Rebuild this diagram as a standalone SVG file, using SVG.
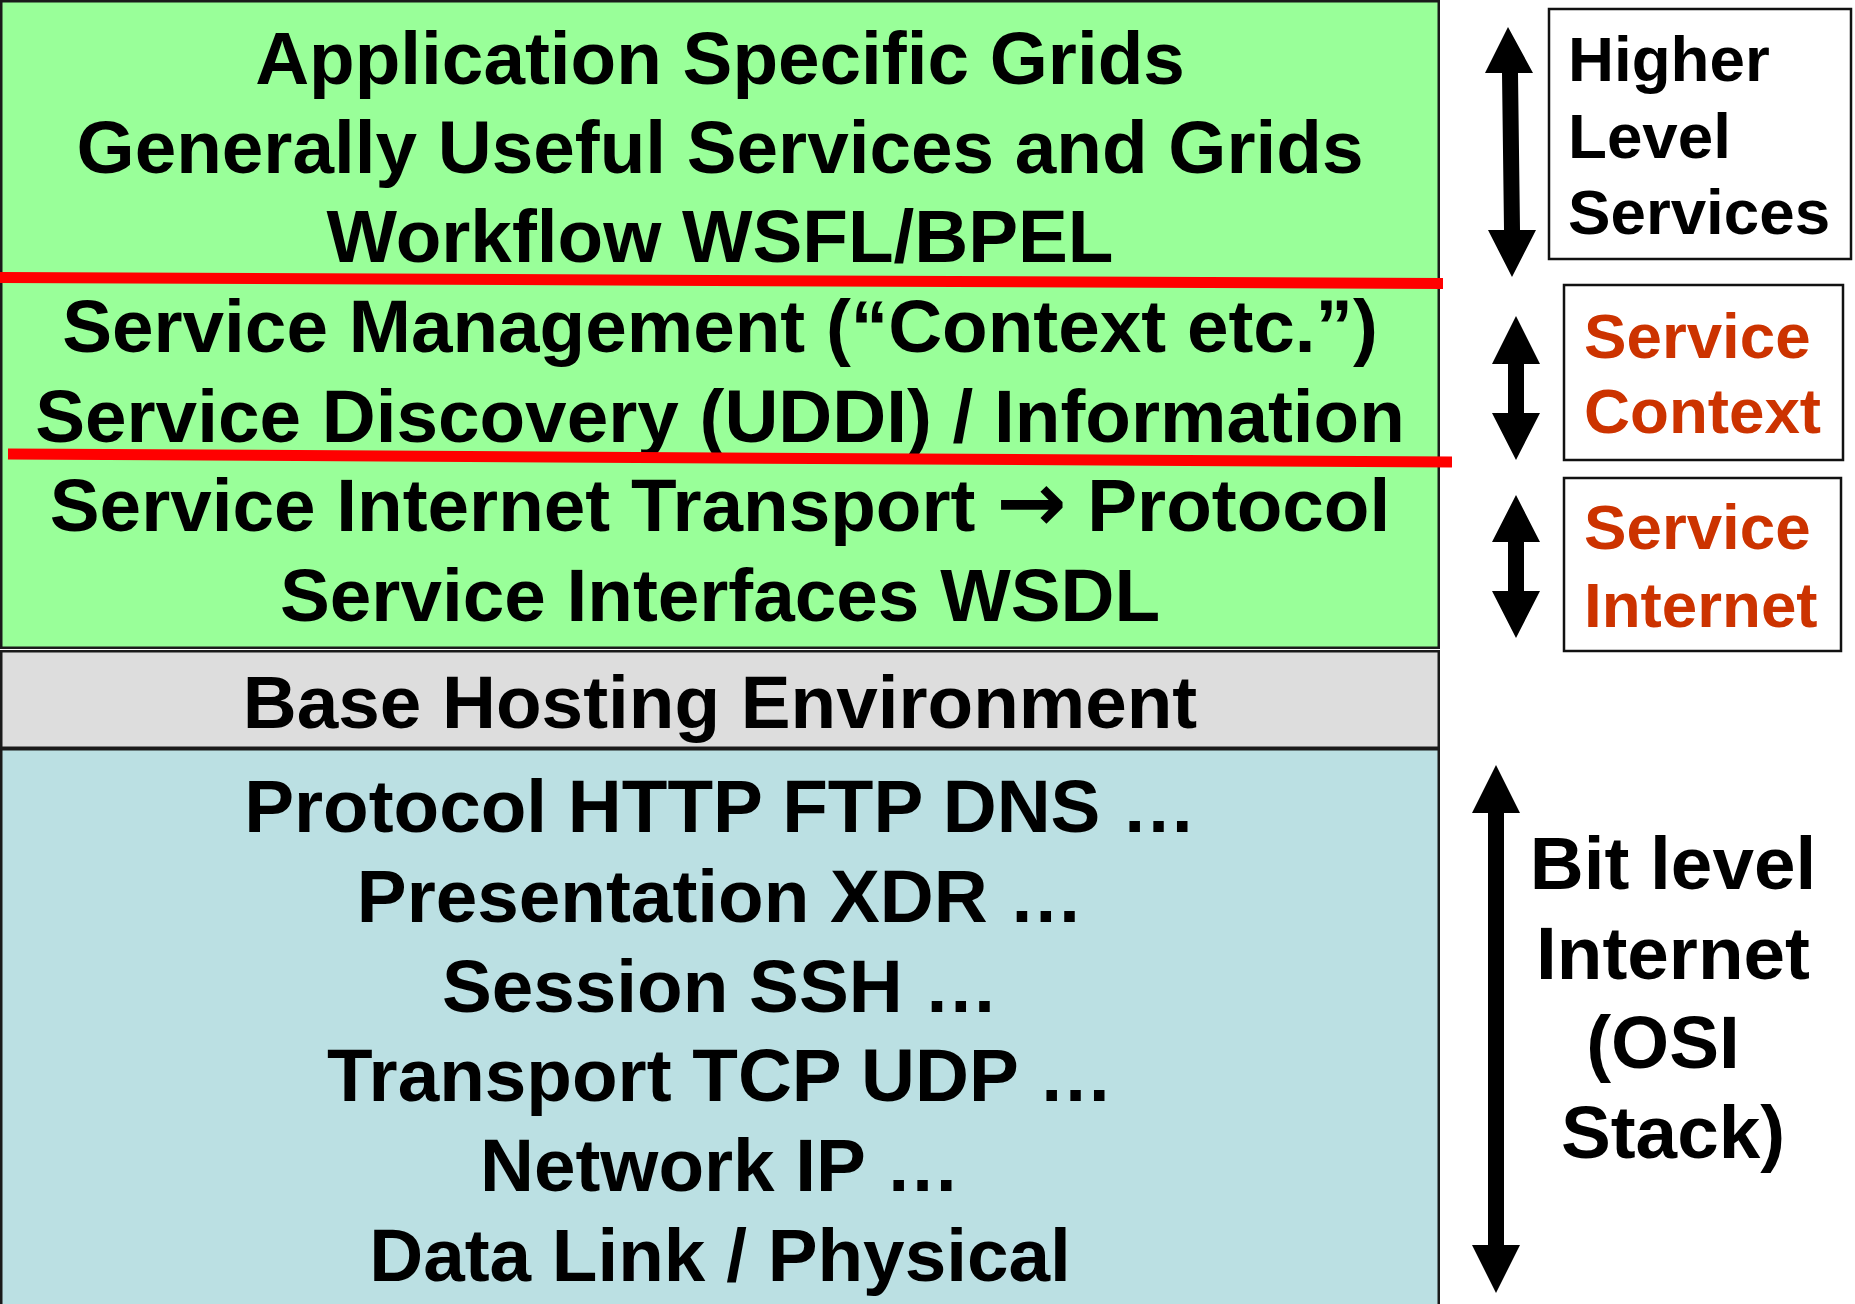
<svg xmlns="http://www.w3.org/2000/svg" width="1855" height="1304" viewBox="0 0 1855 1304">
  <style>
    .layer { stroke: #1a1a1a; stroke-width: 2.5; }
    .main { font-family: "Liberation Sans", Arial, sans-serif; font-weight: bold; font-size: 74.7px; fill: #000; text-anchor: middle; }
    .sym { font-family: "DejaVu Sans", sans-serif; font-weight: bold; font-size: 84px; }
    .side { font-family: "Liberation Sans", Arial, sans-serif; font-weight: bold; font-size: 63.7px; }
    .black { fill: #000; }
    .rust { fill: #CC3300; }
    .box { fill: #fff; stroke: #111; stroke-width: 2.5; }
    .arrow { fill: #000; }
    .divider { stroke: #FF0000; stroke-width: 11; fill: none; }
  </style>

  <rect x="0" y="0" width="1855" height="1304" fill="#fff"/>

  <!-- Service layers (green) -->
  <g id="service-layers">
    <rect class="layer" x="1.25" y="1.25" width="1437.5" height="646.5" fill="#99FF99"/>
    <text class="main" x="720" y="84">Application Specific Grids</text>
    <text class="main" x="720" y="173">Generally Useful Services and Grids</text>
    <text class="main" x="720" y="262">Workflow WSFL/BPEL</text>
    <text class="main" x="720" y="352">Service Management (“Context etc.”)</text>
    <text class="main" x="720" y="442">Service Discovery (UDDI) / Information</text>
    <text class="main" x="720" y="531">Service Internet Transport <tspan class="sym">→</tspan> Protocol</text>
    <text class="main" x="720" y="621">Service Interfaces WSDL</text>
  </g>

  <!-- Hosting environment (grey) -->
  <g id="hosting-layer">
    <rect class="layer" x="1.25" y="651.25" width="1437.5" height="96.5" fill="#DDDDDD"/>
    <text class="main" x="720" y="728">Base Hosting Environment</text>
  </g>

  <!-- OSI stack (blue) -->
  <g id="osi-layers">
    <rect class="layer" x="1.25" y="749.25" width="1437.5" height="560" fill="#BBE0E3"/>
    <text class="main" x="720" y="832">Protocol HTTP FTP DNS …</text>
    <text class="main" x="720" y="922">Presentation XDR …</text>
    <text class="main" x="720" y="1012">Session SSH …</text>
    <text class="main" x="720" y="1101">Transport TCP UDP …</text>
    <text class="main" x="720" y="1191">Network IP …</text>
    <text class="main" x="720" y="1281">Data Link / Physical</text>
  </g>

  <!-- Red dividers across the service layers -->
  <g id="dividers">
    <line class="divider" x1="0" y1="277.5" x2="1443" y2="283.5"/>
    <line class="divider" x1="8" y1="454" x2="1452" y2="462"/>
  </g>

  <!-- Side labels -->
  <g id="higher-level-services">
    <rect class="box" x="1549" y="9" width="302" height="250"/>
    <text class="side black" x="1568" y="81">Higher</text>
    <text class="side black" x="1568" y="158">Level</text>
    <text class="side black" x="1568" y="234">Services</text>
  </g>

  <g id="service-context">
    <rect class="box" x="1564" y="285" width="279" height="175"/>
    <text class="side rust" x="1584" y="358">Service</text>
    <text class="side rust" x="1584" y="433">Context</text>
  </g>

  <g id="service-internet">
    <rect class="box" x="1564" y="478" width="277" height="173"/>
    <text class="side rust" x="1584" y="549">Service</text>
    <text class="side rust" x="1584" y="627">Internet</text>
  </g>

  <g id="bit-level-internet">
    <text class="main" x="1673" y="889">Bit level</text>
    <text class="main" x="1673" y="979">Internet</text>
    <text class="main" x="1663" y="1068">(OSI</text>
    <text class="main" x="1673" y="1158">Stack)</text>
  </g>

  <!-- Double-headed range arrows -->
  <g id="connectors">
    <polygon class="arrow" points="1508,27 1533,73 1518,73 1520,230 1536,230 1512,277 1488,230 1504,230 1502,73 1485,73"/>
    <polygon class="arrow" points="1516,316 1540,364 1524,364 1524,413 1540,413 1516,460 1492,413 1508,413 1508,364 1492,364"/>
    <polygon class="arrow" points="1516,495 1540,542 1524,542 1524,591 1540,591 1516,638 1492,591 1508,591 1508,542 1492,542"/>
    <polygon class="arrow" points="1496,765 1520,813 1504,813 1504,1245 1520,1245 1496,1293 1472,1245 1488,1245 1488,813 1472,813"/>
  </g>
</svg>
